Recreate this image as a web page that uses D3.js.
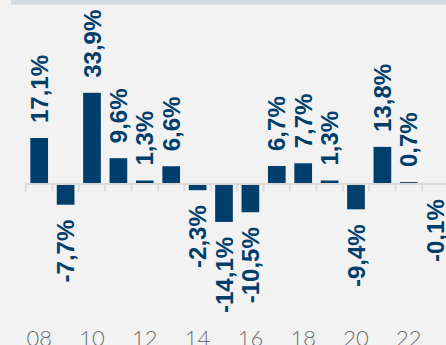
<!DOCTYPE html>
<html>
<head>
<meta charset="utf-8">
<script src="https://cdn.jsdelivr.net/npm/d3@7/dist/d3.min.js"></script>
<style>
  html, body { margin: 0; padding: 0; background: #f2f2f2; overflow: hidden; }
  svg { display: block; }
</style>
</head>
<body>
<div id="chart"></div>
<script>
// Annual change, 2008–2023 (%)
const years = [2008, 2009, 2010, 2011, 2012, 2013, 2014, 2015, 2016, 2017, 2018, 2019, 2020, 2021, 2022, 2023];
const values = [17.1, -7.7, 33.9, 9.6, 1.3, 6.6, -2.3, -14.1, -10.5, 6.7, 7.7, 1.3, -9.4, 13.8, 0.7, -0.1];
const tickYears = [2008, 2010, 2012, 2014, 2016, 2018, 2020, 2022];
const tickLabels = ["08", "10", "12", "14", "16", "18", "20", "22"];

const W = 446, H = 345;
const barColor = "#003e6b";
const axisColor = "#d9d9d9";

const svg = d3.select("#chart").append("svg")
  .attr("width", W).attr("height", H);

svg.append("rect").attr("width", W).attr("height", H).attr("fill", "#f2f2f2");
// header strip
svg.append("rect").attr("x", 11).attr("y", 0).attr("width", W - 11).attr("height", 4.5)
  .attr("fill", "#d0dbe4");

const x = d3.scaleBand()
  .domain(years)
  .range([26, 448.4])
  .paddingInner(0.33)
  .paddingOuter(0.165);

const y = d3.scaleLinear()
  .domain([-25, 40])
  .range([184 + 25 * 2.69, 184 - 40 * 2.69]);

const gap = (x.step() - x.bandwidth()) / 2;
const fmt = v => v.toFixed(1).replace(".", ",") + "%";

// bars
svg.append("g").selectAll("rect")
  .data(years)
  .join("rect")
  .attr("x", d => x(d))
  .attr("width", x.bandwidth())
  .attr("y", (d, i) => y(Math.max(0, values[i])))
  .attr("height", (d, i) => Math.abs(y(values[i]) - y(0)))
  .attr("fill", barColor);

// zero line with ticks between categories
const axis = svg.append("g");
axis.append("line")
  .attr("x1", x(years[0]) - gap).attr("x2", W)
  .attr("y1", y(0)).attr("y2", y(0))
  .attr("stroke", axisColor).attr("stroke-width", 2);
axis.selectAll("line.tick")
  .data(years)
  .join("line")
  .attr("class", "tick")
  .attr("x1", d => x(d) - gap).attr("x2", d => x(d) - gap)
  .attr("y1", y(0) - 1).attr("y2", y(0) + 7.5)
  .attr("stroke", axisColor).attr("stroke-width", 1.8);

// value labels, rotated
svg.append("g").selectAll("text")
  .data(years)
  .join("text")
  .attr("transform", (d, i) => {
    const cx = x(d) + x.bandwidth() / 2;
    const v = values[i];
    const ty = v >= 0 ? y(v) - 15 : y(v) + 15;
    return `translate(${cx},${ty}) rotate(-90)`;
  })
  .attr("text-anchor", (d, i) => values[i] >= 0 ? "start" : "end")
  .attr("dy", "0.36em")
  .attr("font-family", "'Liberation Sans', Arial, sans-serif")
  .attr("font-weight", "bold")
  .attr("font-size", 24)
  .attr("fill", barColor)
  .text((d, i) => fmt(values[i]));

// year labels
svg.append("g").selectAll("text")
  .data(tickYears)
  .join("text")
  .attr("x", d => x(d) + x.bandwidth() / 2)
  .attr("y", 346)
  .attr("text-anchor", "middle")
  .attr("font-family", "Lato, 'Open Sans', sans-serif")
  .attr("font-weight", 300)
  .attr("font-size", 22)
  .attr("fill", "#6e6e6e")
  .text((d, i) => tickLabels[i]);
</script>
</body>
</html>
